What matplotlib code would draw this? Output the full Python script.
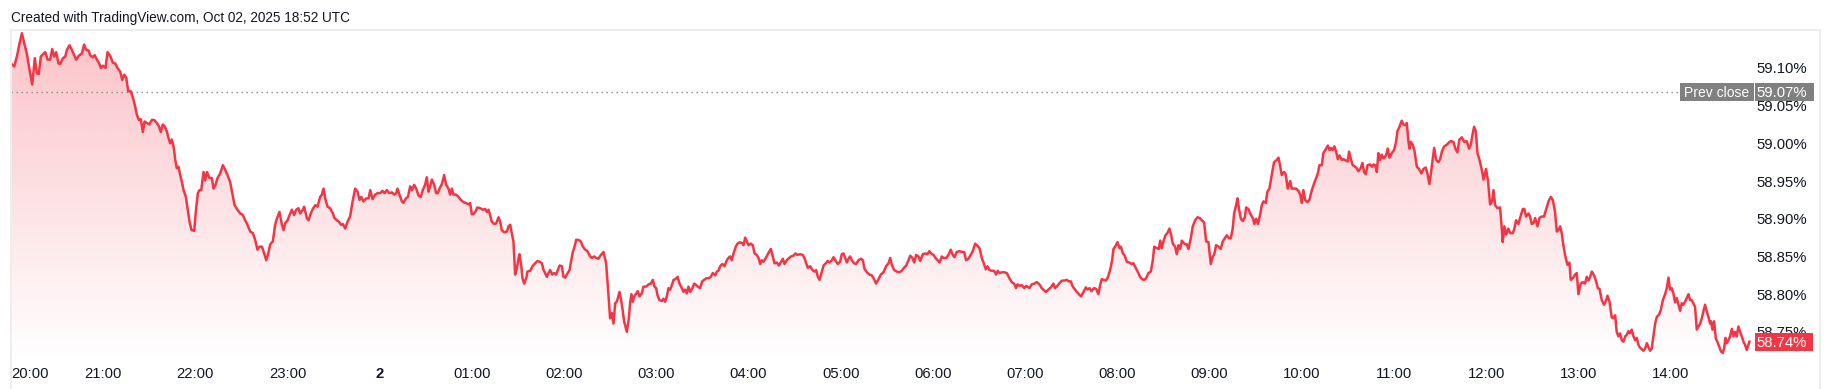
import numpy as np
import matplotlib
matplotlib.use("Agg")
import matplotlib.pyplot as plt
from matplotlib.patches import Rectangle
from matplotlib.lines import Line2D

# ---------------- data (minutes after 20:00, yield in %) ----------------
min_2000 = [0.0, 2.1, 3.8, 5.6, 7.1, 8.6, 10.3, 12.1, 13.8, 15.5,
            16.8, 18.1, 19.4, 21.2, 22.3, 23.8, 25.5, 26.8, 28.1, 29.4,
            30.9, 32.0, 33.8, 35.3, 36.4, 38.1, 39.6, 41.1, 42.4, 44.0,
            46.1, 47.6, 48.9, 50.5, 51.5, 53.3, 54.4, 55.9, 57.4, 58.5,
            59.8, 61.5, 62.8, 64.6, 66.3, 67.8, 69.3, 71.1, 72.4, 73.7,
            75.0, 76.3, 78.0, 79.7, 80.8, 81.9, 83.2, 84.5, 85.8, 86.9,
            88.4, 89.9, 91.7, 93.2, 94.9, 96.4, 97.5, 98.8, 100.1, 101.4,
            102.5, 103.6, 104.7, 105.8, 106.9, 107.9, 109.0, 110.1, 111.2, 112.3,
            113.8, 114.9, 116.2, 117.5, 119.2, 120.5, 121.6, 122.7, 123.8, 125.3,
            126.4, 127.5, 129.2, 130.7, 131.8, 133.1, 134.4, 136.1, 137.9, 139.4,
            140.9, 142.6, 144.2, 145.5, 147.4, 149.2, 150.9, 152.4, 153.9, 155.7,
            157.4, 158.9, 160.4, 161.7, 163.3, 164.8, 166.1, 167.4, 168.7, 170.4,
            171.9, 173.0, 174.7, 176.3, 177.4, 178.4, 180.0, 181.3, 182.8, 184.3,
            185.6, 187.1]
pct_2000 = [59.106, 59.102, 59.115, 59.133, 59.146, 59.133, 59.119, 59.097, 59.078, 59.113,
            59.093, 59.092, 59.115, 59.119, 59.121, 59.111, 59.111, 59.125, 59.115, 59.121,
            59.106, 59.105, 59.113, 59.115, 59.124, 59.130, 59.124, 59.117, 59.111, 59.116,
            59.119, 59.131, 59.124, 59.123, 59.117, 59.114, 59.117, 59.111, 59.106, 59.100,
            59.103, 59.100, 59.121, 59.116, 59.107, 59.106, 59.100, 59.095, 59.084, 59.091,
            59.087, 59.069, 59.069, 59.058, 59.049, 59.038, 59.031, 59.032, 59.015, 59.029,
            59.027, 59.025, 59.031, 59.031, 59.027, 59.022, 59.015, 59.025, 59.022, 59.016,
            59.007, 59.000, 59.005, 58.996, 58.978, 58.967, 58.969, 58.958, 58.949, 58.938,
            58.929, 58.914, 58.896, 58.885, 58.884, 58.914, 58.934, 58.938, 58.938, 58.962,
            58.951, 58.962, 58.954, 58.954, 58.940, 58.945, 58.954, 58.960, 58.971, 58.965,
            58.958, 58.949, 58.932, 58.918, 58.912, 58.907, 58.905, 58.898, 58.892, 58.883,
            58.881, 58.872, 58.859, 58.863, 58.863, 58.854, 58.845, 58.854, 58.866, 58.870,
            58.892, 58.900, 58.909, 58.892, 58.885, 58.894, 58.898, 58.905, 58.912, 58.905,
            58.912, 58.914]

min_2310 = [188.2, 189.9, 190.8, 192.5, 193.6, 195.1, 196.4, 198.0, 199.5, 201.2,
            202.3, 203.4, 204.5, 206.0, 207.7, 209.5, 210.5, 212.1, 213.4, 214.7,
            216.0, 217.5, 219.0, 220.7, 222.3, 224.0, 225.5, 226.8, 227.9, 229.4,
            231.2, 232.7, 233.8, 235.3, 237.0, 238.5, 240.3, 241.8, 243.1, 244.6,
            246.1, 247.9, 249.4, 250.7, 251.5, 252.8, 254.4, 255.4, 257.0, 258.3,
            259.8, 260.9, 262.4, 263.7, 265.2, 266.7, 268.0, 269.5, 270.6, 271.7,
            272.8, 273.9, 275.4, 276.7, 277.8, 278.9, 280.4, 281.9, 283.2, 284.7,
            285.8, 286.9, 288.0, 289.7, 291.2, 292.8, 294.5, 296.0, 297.7, 298.8,
            299.9, 301.0, 302.1, 303.6, 305.3, 307.1, 308.6, 309.7, 310.8, 311.8,
            312.9, 314.5, 315.8, 317.3, 318.4, 319.4, 321.0, 322.7, 323.8, 324.9,
            325.9, 327.0, 328.1, 329.2, 330.3, 330.9, 332.0, 332.9, 334.0, 335.3,
            336.1, 337.9, 339.4, 341.1, 342.7, 344.0, 345.5, 346.6, 347.6, 348.7,
            349.8, 350.9, 352.2, 353.5, 354.8, 355.9, 357.0, 358.5, 359.6, 360.7,
            361.7, 363.5, 364.6, 365.6, 366.5, 367.8, 369.3, 370.8, 372.2, 373.7,
            375.2, 376.9]
pct_2310 = [58.907, 58.912, 58.916, 58.901, 58.898, 58.907, 58.913, 58.918, 58.916, 58.929,
            58.932, 58.940, 58.927, 58.916, 58.914, 58.907, 58.901, 58.898, 58.896, 58.892,
            58.893, 58.887, 58.896, 58.903, 58.923, 58.940, 58.936, 58.925, 58.929, 58.923,
            58.927, 58.927, 58.938, 58.926, 58.932, 58.934, 58.934, 58.937, 58.934, 58.938,
            58.934, 58.935, 58.932, 58.934, 58.940, 58.932, 58.923, 58.921, 58.927, 58.929,
            58.943, 58.938, 58.945, 58.940, 58.931, 58.929, 58.938, 58.945, 58.955, 58.936,
            58.943, 58.952, 58.945, 58.934, 58.934, 58.940, 58.946, 58.958, 58.945, 58.940,
            58.932, 58.940, 58.932, 58.932, 58.929, 58.925, 58.922, 58.921, 58.919, 58.921,
            58.906, 58.906, 58.909, 58.915, 58.914, 58.912, 58.913, 58.909, 58.912, 58.905,
            58.896, 58.893, 58.894, 58.902, 58.896, 58.885, 58.882, 58.883, 58.890, 58.892,
            58.881, 58.870, 58.826, 58.834, 58.848, 58.853, 58.839, 58.821, 58.814, 58.821,
            58.830, 58.831, 58.837, 58.841, 58.844, 58.843, 58.841, 58.832, 58.828, 58.823,
            58.828, 58.832, 58.826, 58.828, 58.826, 58.832, 58.838, 58.837, 58.823, 58.822,
            58.826, 58.832, 58.845, 58.856, 58.861, 58.872, 58.872, 58.870, 58.863, 58.859,
            58.857, 58.850]

min_0218 = [378.0, 379.5, 380.8, 382.3, 383.9, 385.6, 387.3, 388.2, 389.1, 389.9,
            391.0, 392.1, 393.2, 394.3, 396.0, 397.1, 398.2, 399.0, 400.8, 402.1,
            403.0, 403.8, 404.7, 405.6, 406.9, 407.9, 409.0, 410.5, 411.6, 413.4,
            414.9, 416.4, 417.7, 418.8, 419.9, 420.7, 422.0, 423.6, 424.6, 425.7,
            426.8, 427.9, 429.0, 430.1, 431.2, 432.5, 433.8, 435.1, 436.6, 437.7,
            438.7, 439.8, 440.9, 442.0, 443.5, 444.6, 445.9, 447.0, 448.5, 449.8,
            451.1, 452.4, 453.9, 455.4, 456.7, 458.3, 459.4, 460.4, 461.5, 463.0,
            464.3, 465.9, 466.9, 468.0, 469.1, 470.2, 471.7, 472.8, 474.5, 476.1,
            476.7, 477.8, 478.9, 480.0, 481.5, 482.8, 483.9, 485.4, 486.5, 487.6,
            488.6, 489.7, 491.2, 492.5, 493.6, 494.5, 495.8, 496.9, 498.4, 499.7,
            501.2, 502.3, 503.4, 504.9, 506.4, 507.7, 509.2, 510.5, 511.8, 513.6,
            515.3, 516.4, 517.5, 518.6, 520.1, 521.6, 522.9, 524.0, 525.1, 526.2,
            527.2, 528.8, 530.3, 531.4, 532.7, 534.2, 535.3, 536.8, 538.1, 539.6,
            540.7, 541.8, 542.9, 544.0, 545.0, 546.1, 547.2, 548.7, 550.0, 551.5,
            553.1, 554.4, 555.4, 557.0, 558.7, 560.2, 561.7, 563.0, 564.6]
pct_0218 = [58.848, 58.850, 58.848, 58.847, 58.852, 58.856, 58.841, 58.817, 58.790, 58.768,
            58.775, 58.761, 58.788, 58.790, 58.803, 58.792, 58.777, 58.764, 58.750, 58.768,
            58.790, 58.800, 58.790, 58.797, 58.801, 58.804, 58.797, 58.801, 58.810, 58.810,
            58.813, 58.814, 58.819, 58.810, 58.808, 58.799, 58.792, 58.791, 58.794, 58.790,
            58.797, 58.808, 58.806, 58.812, 58.819, 58.820, 58.823, 58.814, 58.808, 58.803,
            58.806, 58.801, 58.810, 58.803, 58.808, 58.814, 58.812, 58.810, 58.808, 58.817,
            58.819, 58.821, 58.821, 58.823, 58.828, 58.825, 58.830, 58.831, 58.837, 58.840,
            58.837, 58.845, 58.848, 58.850, 58.845, 58.854, 58.863, 58.867, 58.869, 58.867,
            58.865, 58.875, 58.870, 58.865, 58.867, 58.865, 58.854, 58.852, 58.848, 58.840,
            58.845, 58.843, 58.848, 58.853, 58.857, 58.860, 58.850, 58.841, 58.842, 58.838,
            58.843, 58.847, 58.840, 58.845, 58.848, 58.850, 58.851, 58.854, 58.852, 58.853,
            58.852, 58.848, 58.841, 58.835, 58.837, 58.832, 58.830, 58.832, 58.823, 58.819,
            58.826, 58.838, 58.841, 58.844, 58.842, 58.845, 58.849, 58.844, 58.840, 58.843,
            58.853, 58.854, 58.848, 58.842, 58.847, 58.850, 58.845, 58.841, 58.840, 58.845,
            58.847, 58.845, 58.834, 58.829, 58.826, 58.825, 58.820, 58.814, 58.820]

min_0526 = [566.1, 567.8, 569.5, 571.1, 572.2, 573.2, 574.8, 576.5, 578.2, 579.7,
            580.8, 582.6, 584.1, 585.2, 586.7, 587.8, 589.1, 590.6, 591.7, 593.4,
            594.9, 596.4, 597.7, 598.8, 600.4, 601.7, 603.0, 604.3, 605.8, 606.9,
            608.6, 610.1, 611.6, 612.9, 614.0, 615.5, 617.3, 618.8, 620.3, 621.6,
            623.1, 624.6, 625.9, 627.5, 629.0, 630.3, 631.8, 632.9, 634.4, 635.5,
            636.8, 638.3, 639.8, 641.1, 642.2, 643.3, 644.8, 646.3, 648.1, 649.8,
            651.3, 652.8, 654.1, 655.0, 656.3, 657.8, 659.4, 660.7, 661.5, 662.8,
            664.3, 665.9, 667.6, 669.3, 670.8, 671.9, 673.5, 675.2, 676.7, 678.4,
            679.5, 680.6, 682.1, 683.9, 685.6, 687.1, 688.2, 689.7, 691.0, 692.5,
            694.1, 695.4, 696.4, 698.0, 699.5, 700.6, 701.9, 703.2, 704.9, 706.2,
            707.7, 708.8, 709.9, 711.0, 712.5, 713.8, 715.3, 716.6, 717.5, 718.6,
            720.1, 721.4, 722.3, 723.6, 724.6, 726.2, 727.7, 729.2, 730.5, 732.2,
            733.5, 734.8, 736.1, 737.4, 738.7, 740.3, 741.8, 743.1, 744.0, 745.7,
            747.0, 747.9, 748.9, 750.0, 751.3, 752.6, 753.9]
pct_0526 = [58.826, 58.829, 58.837, 58.841, 58.848, 58.839, 58.832, 58.830, 58.829, 58.831,
            58.834, 58.838, 58.845, 58.851, 58.848, 58.842, 58.852, 58.850, 58.844, 58.853,
            58.854, 58.853, 58.857, 58.854, 58.852, 58.848, 58.845, 58.842, 58.850, 58.848,
            58.848, 58.852, 58.859, 58.852, 58.849, 58.856, 58.857, 58.856, 58.856, 58.845,
            58.847, 58.852, 58.857, 58.867, 58.864, 58.861, 58.848, 58.842, 58.833, 58.837,
            58.832, 58.831, 58.831, 58.826, 58.831, 58.828, 58.829, 58.829, 58.828, 58.821,
            58.816, 58.814, 58.808, 58.813, 58.811, 58.812, 58.808, 58.811, 58.810, 58.808,
            58.813, 58.814, 58.816, 58.813, 58.808, 58.806, 58.803, 58.806, 58.809, 58.814,
            58.808, 58.810, 58.814, 58.818, 58.818, 58.819, 58.817, 58.817, 58.810, 58.806,
            58.802, 58.799, 58.797, 58.803, 58.809, 58.806, 58.808, 58.804, 58.808, 58.807,
            58.800, 58.812, 58.820, 58.819, 58.818, 58.822, 58.832, 58.845, 58.860, 58.863,
            58.869, 58.861, 58.863, 58.854, 58.852, 58.843, 58.842, 58.840, 58.841, 58.834,
            58.829, 58.823, 58.820, 58.819, 58.821, 58.828, 58.830, 58.845, 58.863, 58.861,
            58.860, 58.871, 58.861, 58.870, 58.878, 58.881, 58.887]

min_0835 = [755.0, 756.1, 757.6, 758.7, 759.8, 760.9, 762.0, 763.5, 765.2, 766.3,
            767.8, 769.1, 770.6, 772.2, 773.5, 775.0, 776.5, 777.8, 779.3, 780.8,
            782.1, 783.0, 784.3, 785.8, 787.3, 788.6, 790.2, 791.2, 792.8, 793.8,
            795.1, 796.0, 797.3, 798.2, 799.3, 800.4, 801.7, 803.0, 803.8, 805.3,
            806.4, 808.2, 809.2, 810.3, 811.6, 812.9, 814.0, 815.1, 816.6, 817.7,
            819.0, 820.5, 822.0, 823.8, 824.9, 825.9, 827.0, 828.5, 829.6, 830.9,
            832.5, 833.5, 835.1, 836.4, 837.9, 839.0, 840.0, 841.1, 842.2, 843.7,
            845.0, 846.6, 848.1, 849.4, 850.5, 851.5, 853.1, 854.1, 855.9, 857.0,
            858.1, 859.1, 860.2, 861.3, 862.4, 863.5, 864.6, 866.1, 867.2, 868.9,
            870.0, 870.8, 871.9, 873.2, 874.8, 875.8, 876.9, 878.4, 879.5, 880.6,
            881.7, 882.8, 884.5, 885.8, 886.7, 887.8, 888.9, 889.9, 891.0, 892.1,
            893.2, 894.9, 896.0, 897.1, 898.6, 900.1, 901.4, 902.3, 903.6, 905.1,
            906.2, 907.3, 908.4, 909.5, 910.1, 911.0, 912.3, 913.4, 914.9, 916.4,
            917.9, 919.2, 920.7, 921.8, 923.1, 924.2, 925.3, 926.2, 927.5, 929.0,
            930.1, 931.2, 932.7, 934.4, 935.7, 937.0, 938.7, 940.0, 941.3, 942.6]
pct_0835 = [58.879, 58.867, 58.863, 58.853, 58.865, 58.860, 58.871, 58.867, 58.866, 58.860,
            58.874, 58.890, 58.898, 58.902, 58.901, 58.898, 58.895, 58.870, 58.869, 58.840,
            58.850, 58.852, 58.865, 58.863, 58.860, 58.870, 58.875, 58.878, 58.874, 58.874,
            58.887, 58.907, 58.918, 58.927, 58.912, 58.900, 58.897, 58.902, 58.915, 58.913,
            58.907, 58.901, 58.893, 58.900, 58.893, 58.905, 58.918, 58.923, 58.921, 58.936,
            58.940, 58.958, 58.975, 58.978, 58.981, 58.971, 58.958, 58.962, 58.959, 58.940,
            58.950, 58.940, 58.940, 58.940, 58.937, 58.932, 58.921, 58.938, 58.925, 58.922,
            58.925, 58.938, 58.947, 58.954, 58.960, 58.971, 58.971, 58.987, 58.993, 58.997,
            58.991, 58.994, 58.991, 58.996, 58.989, 58.979, 58.984, 58.978, 58.979, 58.977,
            58.976, 58.989, 58.980, 58.971, 58.969, 58.967, 58.963, 58.967, 58.974, 58.962,
            58.959, 58.971, 58.972, 58.969, 58.972, 58.971, 58.962, 58.987, 58.978, 58.985,
            58.980, 58.984, 58.993, 58.981, 58.987, 58.991, 59.002, 59.016, 59.022, 59.030,
            59.025, 59.024, 59.027, 59.002, 58.993, 59.002, 58.998, 58.990, 58.969, 58.966,
            58.960, 58.966, 58.968, 58.960, 58.946, 58.962, 58.980, 58.994, 58.978, 58.975,
            58.979, 58.989, 58.996, 58.998, 59.001, 59.003, 59.002, 58.993, 58.988, 59.005]

min_1144 = [944.2, 945.7, 947.4, 948.9, 950.0, 951.3, 952.2, 953.3, 954.4, 955.7,
            957.2, 958.3, 960.0, 961.3, 962.6, 963.9, 964.8, 965.9, 967.4, 969.1,
            970.2, 970.8, 971.9, 973.0, 974.5, 975.6, 977.4, 978.4, 979.5, 981.0,
            982.1, 983.9, 984.9, 986.0, 987.6, 988.6, 989.7, 990.8, 991.9, 993.4,
            994.7, 996.2, 997.7, 999.0, 1000.6, 1002.1, 1003.4, 1004.9, 1006.0, 1007.1,
            1008.2, 1009.2, 1010.3, 1011.4, 1012.9, 1014.2, 1015.1, 1016.8, 1017.9, 1019.0,
            1020.1, 1021.6, 1022.9, 1024.4, 1025.5, 1026.6, 1027.7, 1028.8, 1030.3, 1031.6,
            1032.7, 1033.8, 1035.3, 1036.8, 1038.1, 1039.0, 1040.3, 1041.8, 1042.9, 1044.0,
            1045.0, 1046.1, 1047.2, 1048.3, 1049.4, 1050.5, 1051.5, 1052.6, 1053.7, 1054.8,
            1055.9, 1057.0, 1058.1, 1059.1, 1060.2, 1061.3, 1062.4, 1063.5, 1064.6, 1065.6,
            1066.7, 1067.8, 1068.9, 1070.0, 1071.1, 1072.6, 1073.7, 1075.0, 1076.5, 1077.6,
            1078.7, 1079.7, 1080.8, 1081.9, 1083.0, 1084.1, 1085.2, 1086.3, 1087.3, 1088.4,
            1089.5, 1090.6, 1091.7, 1092.8, 1093.8, 1094.9, 1096.0, 1097.1, 1098.2, 1099.3,
            1100.4, 1101.4, 1102.5, 1103.6, 1104.7, 1105.8, 1106.4, 1107.3, 1108.4, 1109.5,
            1110.5, 1111.8, 1112.9, 1114.0, 1114.9, 1115.8, 1116.6, 1117.7, 1118.8, 1119.9,
            1121.0, 1122.0, 1123.1, 1124.2, 1125.3, 1126.4, 1127.5, 1128.5, 1129.6, 1130.7,
            1131.4]
pct_1144 = [59.008, 59.002, 59.003, 58.993, 58.998, 59.013, 59.022, 59.016, 58.987, 58.978,
            58.965, 58.952, 58.966, 58.949, 58.919, 58.923, 58.938, 58.918, 58.914, 58.915,
            58.887, 58.869, 58.890, 58.879, 58.887, 58.881, 58.881, 58.887, 58.898, 58.893,
            58.901, 58.913, 58.913, 58.903, 58.907, 58.903, 58.893, 58.894, 58.901, 58.890,
            58.901, 58.903, 58.903, 58.912, 58.923, 58.929, 58.925, 58.909, 58.883, 58.885,
            58.890, 58.881, 58.865, 58.852, 58.839, 58.842, 58.819, 58.822, 58.826, 58.828,
            58.800, 58.814, 58.816, 58.814, 58.823, 58.818, 58.823, 58.830, 58.825, 58.817,
            58.808, 58.807, 58.792, 58.786, 58.792, 58.798, 58.790, 58.769, 58.768, 58.772,
            58.750, 58.744, 58.748, 58.739, 58.737, 58.744, 58.746, 58.751, 58.748, 58.753,
            58.744, 58.739, 58.742, 58.733, 58.729, 58.727, 58.725, 58.728, 58.735, 58.730,
            58.725, 58.728, 58.744, 58.761, 58.770, 58.773, 58.779, 58.792, 58.800, 58.808,
            58.822, 58.806, 58.808, 58.801, 58.789, 58.795, 58.786, 58.778, 58.788, 58.786,
            58.790, 58.795, 58.800, 58.792, 58.792, 58.788, 58.783, 58.753, 58.757, 58.761,
            58.768, 58.777, 58.786, 58.777, 58.770, 58.761, 58.764, 58.753, 58.764, 58.741,
            58.737, 58.730, 58.724, 58.722, 58.728, 58.742, 58.735, 58.739, 58.744, 58.754,
            58.744, 58.750, 58.744, 58.757, 58.750, 58.744, 58.737, 58.733, 58.726, 58.733,
            58.737]

prev_close = 59.068
y_ticks = [58.75, 58.80, 58.85, 58.90, 58.95, 59.00, 59.05, 59.10]
x_tick_minutes = [0, 60, 120, 180, 240, 300, 360, 420, 480, 540, 600, 660,
                  720, 780, 840, 900, 960, 1020, 1080]
x_tick_labels = ["20:00", "21:00", "22:00", "23:00", "2", "01:00", "02:00",
                 "03:00", "04:00", "05:00", "06:00", "07:00", "08:00", "09:00",
                 "10:00", "11:00", "12:00", "13:00", "14:00"]
header = "Created with TradingView.com, Oct 02, 2025 18:52 UTC"

# ---------------- assemble ----------------
pairs = [(min_2000, pct_2000), (min_2310, pct_2310), (min_0218, pct_0218),
         (min_0526, pct_0526), (min_0835, pct_0835), (min_1144, pct_1144)]
t_parts, v_parts = [], []
for tm, pc in pairs:
    n = min(len(tm), len(pc))
    t_parts.append(np.asarray(tm[:n], float))
    v_parts.append(np.asarray(pc[:n], float))
t = np.concatenate(t_parts)
v = np.concatenate(v_parts)
last = v[-1]

# ---------------- figure / layout ----------------
W, H = 1831, 389
fig = plt.figure(figsize=(W / 100, H / 100), dpi=100)
fig.patch.set_facecolor("white")

def fx(px):
    return px / W

def fy(py):
    return 1 - py / H

TICK_FONT = ["Liberation Sans Narrow", "Liberation Sans", "DejaVu Sans"]
MAIN_FONT = ["Liberation Sans", "DejaVu Sans"]
RED = "#f23645"
GRAY = "#808080"
TXT = "#131722"

L, R, T, B = 11, 1755, 30, 360
ax = fig.add_axes([fx(L), fy(B), fx(R) - fx(L), fy(T) - fy(B)])
ax.patch.set_visible(False)
for s in ax.spines.values():
    s.set_visible(False)
ax.set_xlim(0, 1135)
ax.set_ylim(58.7127, 59.1503)
y0, y1 = ax.get_ylim()

# gradient area under the line
n = 256
rgba = np.zeros((n, 1, 4))
rgba[..., 0] = 242 / 255
rgba[..., 1] = 54 / 255
rgba[..., 2] = 69 / 255
rgba[..., 3] = np.linspace(0.0, 0.30, n)[:, None]
im = ax.imshow(rgba, extent=[0, 1135, y0, v.max()], origin="lower",
               aspect="auto", zorder=1, interpolation="bilinear")
poly = ax.fill_between(t, v, y0, facecolor="none", edgecolor="none")
im.set_clip_path(poly.get_paths()[0], transform=ax.transData)
ax.set_xlim(0, 1135)
ax.set_ylim(y0, y1)

ax.plot(t, v, color=RED, lw=1.8, zorder=3, solid_joinstyle="round")

# prev close dotted line
ax.axhline(prev_close, xmin=0, xmax=(1680 - L) / (R - L), color="#8a8a8a",
           lw=1.0, linestyle=(0, (1, 2.6)), zorder=2)

# y axis (right)
ax.yaxis.tick_right()
ax.set_yticks(y_ticks, labels=[f"{y:.2f}%" for y in y_ticks])
ax.tick_params(axis="y", length=0, pad=(1807 - R) * 0.72, labelsize=10.7,
               labelcolor=TXT)
for lab in ax.get_yticklabels():
    lab.set_horizontalalignment("right")
    lab.set_fontfamily(TICK_FONT)

# x axis
ax.set_xticks(x_tick_minutes, labels=x_tick_labels)
ax.tick_params(axis="x", length=0, pad=5, labelsize=10.7, labelcolor=TXT)
xl = ax.get_xticklabels()
for lab in xl:
    lab.set_fontfamily(TICK_FONT)
xl[0].set_horizontalalignment("left")
xl[4].set_fontweight("bold")

# pane borders
border = "#eeeeee"
for xs, ys in [((11, 1820), (30, 30)), ((11, 11), (30, 389)), ((1820, 1820), (30, 389))]:
    fig.add_artist(Line2D([fx(xs[0]), fx(xs[1])], [fy(ys[0]), fy(ys[1])],
                          transform=fig.transFigure, color=border, lw=1.5, zorder=0.5))

# header
fig.text(fx(11), fy(21.7), header, ha="left", va="baseline", fontsize=9.8,
         color=TXT, family=MAIN_FONT)

# price labels
def py_of(val):
    return H - ax.transData.transform((0, val))[1]

def box(x0, x1, yc, color, h=18):
    fig.add_artist(Rectangle((fx(x0), fy(yc + h / 2)), fx(x1) - fx(x0), h / H,
                             transform=fig.transFigure, facecolor=color,
                             edgecolor="none", zorder=2))

pc_y = py_of(prev_close)
box(1680, 1753.7, pc_y, GRAY)
box(1755, 1814, pc_y, GRAY)
fig.text(fx(1717), fy(pc_y + 4.8), "Prev close", ha="center", va="baseline",
         fontsize=10.0, color="white", family=MAIN_FONT, zorder=4)
fig.text(fx(1807), fy(pc_y + 5.3), f"{prev_close:.2f}%", ha="right", va="baseline",
         fontsize=10.7, color="white", family=TICK_FONT, zorder=4)

last_y = py_of(last)
box(1755, 1813, last_y, RED)
fig.text(fx(1807), fy(last_y + 5.3), f"{last:.2f}%", ha="right", va="baseline",
         fontsize=10.7, color="white", family=TICK_FONT, zorder=4)

fig.savefig("out.png", dpi=100, facecolor="white")
